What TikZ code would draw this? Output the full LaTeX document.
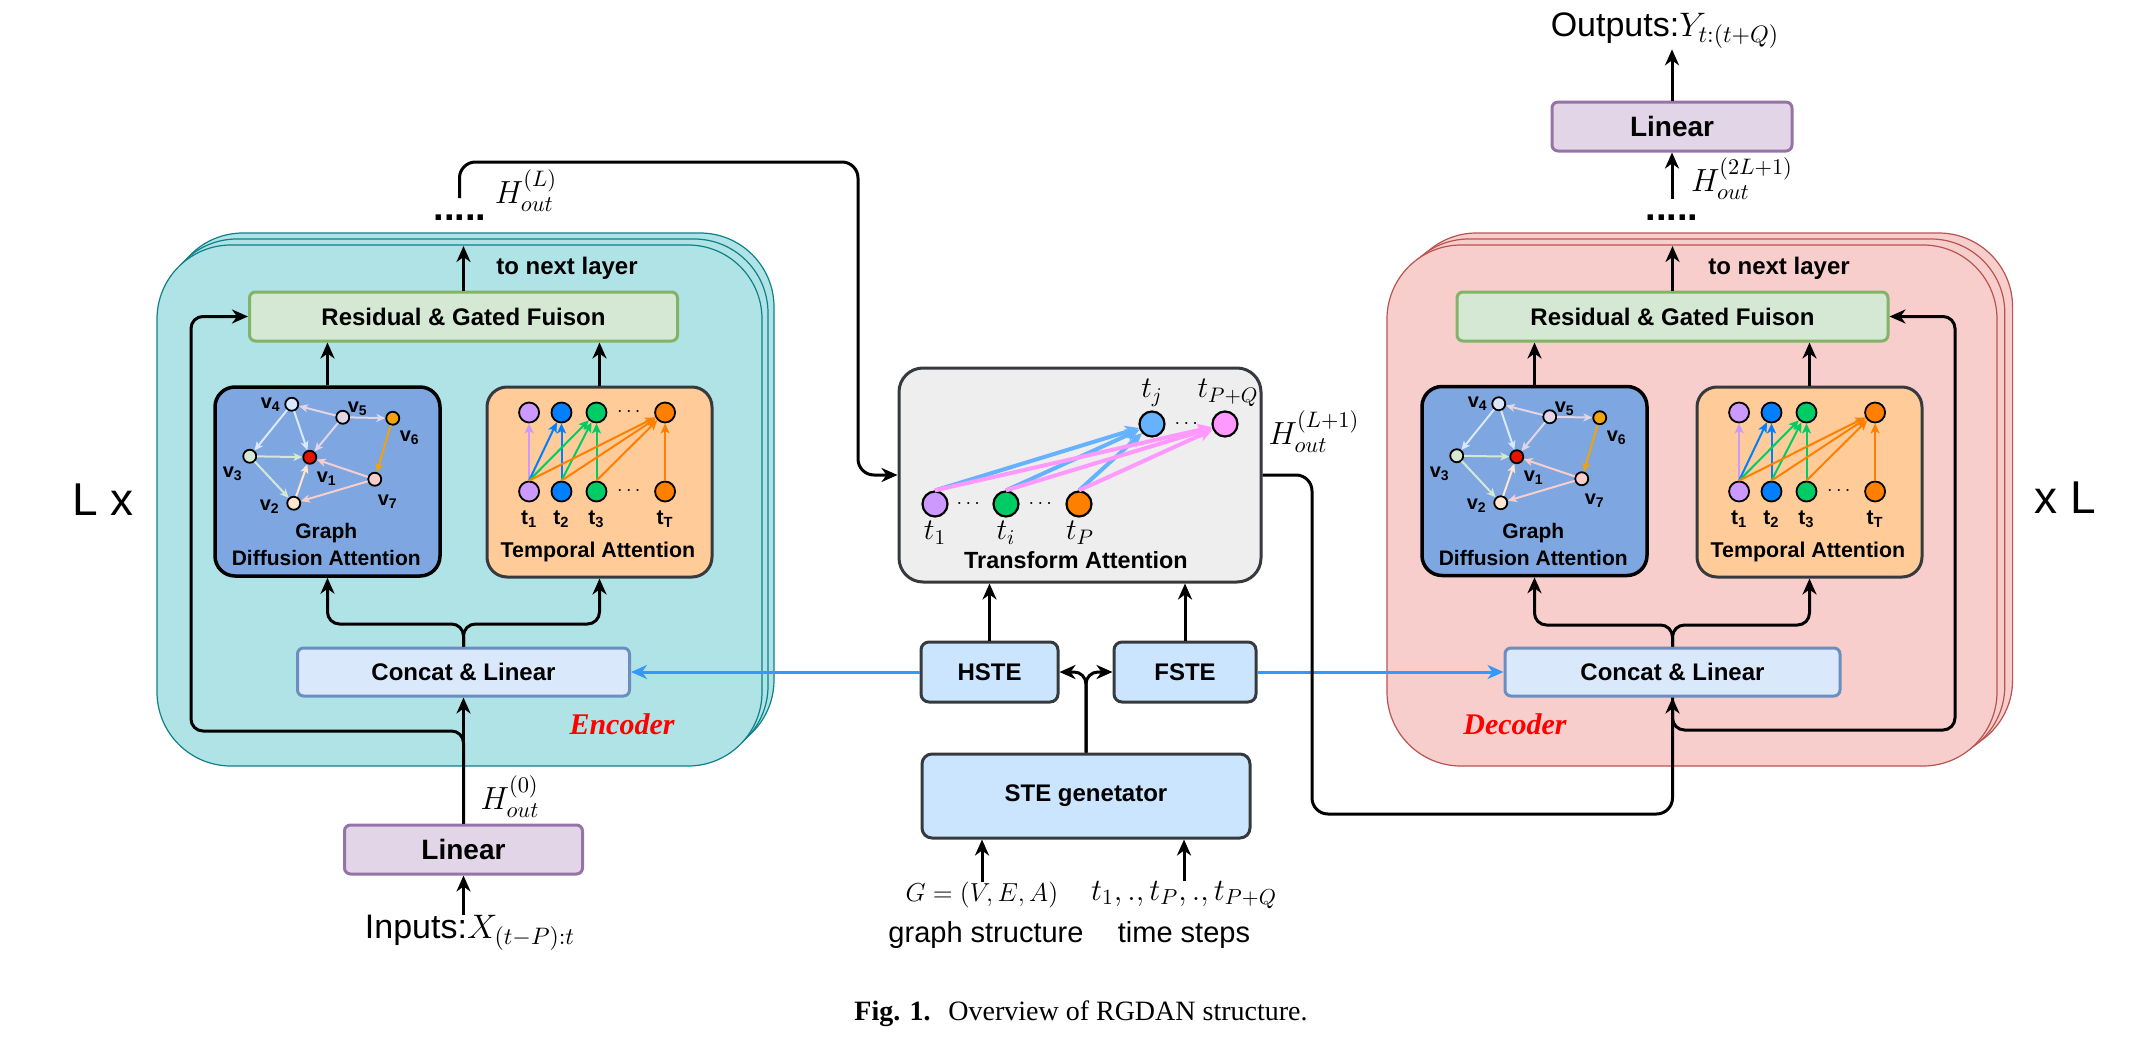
\RequirePackage{fix-cm}
\documentclass[tikz,border=0pt]{standalone}
\usepackage{amsmath}
\usepackage{fontspec}
\setmainfont{Liberation Sans}
\newfontfamily\capfont{Liberation Serif}
\usetikzlibrary{arrows.meta, calc}

\definecolor{encfill}{HTML}{B0E3E6}
\definecolor{encdraw}{HTML}{0E8088}
\definecolor{decfill}{HTML}{F8CECC}
\definecolor{decdraw}{HTML}{B85450}
\definecolor{resfill}{HTML}{D5E8D4}
\definecolor{resdraw}{HTML}{82B366}
\definecolor{catfill}{HTML}{DAE8FC}
\definecolor{catdraw}{HTML}{6C8EBF}
\definecolor{linfill}{HTML}{E1D5E7}
\definecolor{lindraw}{HTML}{9673A6}
\definecolor{gdafill}{HTML}{7EA6E0}
\definecolor{tempfill}{HTML}{FFCC99}
\definecolor{tafill}{HTML}{EEEEEE}
\definecolor{stefill}{HTML}{CCE5FF}
\definecolor{boxdraw}{HTML}{36393D}
\definecolor{embblue}{HTML}{3399FF}
% graph nodes
\definecolor{gv1}{HTML}{E51400}
\definecolor{gv2}{HTML}{FFE6CC}
\definecolor{gv3}{HTML}{D5E8D4}
\definecolor{gv4}{HTML}{DAE8FC}
\definecolor{gv5}{HTML}{E1D5E7}
\definecolor{gv6}{HTML}{F0A30A}
\definecolor{gv7}{HTML}{F8CECC}
% time steps
\definecolor{tpurple}{HTML}{CC99FF}
\definecolor{tblue}{HTML}{007FFF}
\definecolor{tgreen}{HTML}{00CC66}
\definecolor{torange}{HTML}{FF8000}
\definecolor{tsky}{HTML}{66B2FF}
\definecolor{tpink}{HTML}{FF99FF}

\newcommand{\fsz}[2]{\fontsize{#1}{#2}\selectfont}

\begin{document}
\begin{tikzpicture}[x=0.5pt, y=-0.5pt,
    arr/.style={line width=1.5pt, -{Stealth[length=8pt, width=7pt, inset=2.5pt]}},
    embarr/.style={arr, draw=embblue},
    box/.style={draw, line width=1.5pt, rounded corners=3pt, inner sep=0pt, font=\fsz{12}{14}\bfseries},
    resbox/.style={box, fill=resfill, draw=resdraw, minimum width=214pt, minimum height=24.5pt},
    catbox/.style={box, fill=catfill, draw=catdraw, minimum width=166pt, minimum height=24pt},
    linbox/.style={box, fill=linfill, draw=lindraw, minimum width=119pt, minimum height=24.5pt, font=\fsz{14}{16}\bfseries},
    gdabox/.style={box, fill=gdafill, draw=black, line width=1.75pt, rounded corners=10pt, minimum width=112.5pt, minimum height=94.5pt},
    tempbox/.style={box, fill=tempfill, draw=boxdraw, rounded corners=10pt, minimum width=112.5pt, minimum height=95pt},
    stebox/.style={box, fill=stefill, draw=boxdraw, rounded corners=4pt},
    encstack/.style={draw=encdraw, fill=encfill, line width=0.6pt, rounded corners=37pt},
    decstack/.style={draw=decdraw, fill=decfill, line width=0.6pt, rounded corners=37pt},
    gnode/.style={circle, draw, line width=0.9pt, inner sep=0pt, minimum size=6.5pt},
    gedge/.style={line width=1pt, -{Stealth[length=4.5pt, width=4pt, inset=1.2pt]}},
    vlab/.style={font=\fsz{10}{11}\bfseries, inner sep=0pt},
    tnode/.style={circle, draw, line width=0.9pt, inner sep=0pt, minimum size=10pt},
    tedge/.style={line width=1pt, -{Stealth[length=5pt, width=4.5pt, inset=1.2pt]}},
    tlab/.style={font=\fsz{10.5}{12}\bfseries, inner sep=0pt},
    qnode/.style={circle, draw, line width=1.1pt, inner sep=0pt, minimum size=12.5pt},
    qedge/.style={line width=2pt, -{Stealth[length=7pt, width=6.5pt, inset=2pt]}},
    qlab/.style={inner sep=0pt, font=\fsz{15}{17}},
    qdots/.style={inner sep=0pt, font=\fsz{10}{12}},
    note/.style={inner sep=0pt, font=\fsz{12}{14}\bfseries},
    hlab/.style={inner sep=0pt, font=\fsz{16}{18}},
    layerdots/.style={inner sep=0pt, font=\fsz{19}{19}\bfseries},
    stagelab/.style={inner sep=0pt, font=\capfont\fsz{15}{17}\bfseries\itshape, text=red},
  ]
  \useasboundingbox (0,0) rectangle (2133,1044);

  % stacked layers
  \foreach \d in {12,6,0} {
    \draw[encstack] (157+\d,245-\d) rectangle (762+\d,766-\d);
    \draw[decstack] (1387+1.3*\d,245-\d) rectangle (1997+1.3*\d,766-\d);
  }

  % encoder
  \node[linbox] (encLin) at (463.5,849.5) {Linear};
  \node[catbox] (encCat) at (463.5,672) {Concat \& Linear};
  \node[gdabox] (encGraph) at (327.5,481.5) {};
  \node[tempbox] (encTemp) at (599.5,482) {};
  \node[resbox] (encRes) at (463.5,316.5) {Residual \& Gated Fuison};

  % decoder
  \node[linbox, minimum width=120pt] (decLin) at (1672,126.5) {Linear};
  \node[catbox, minimum width=167.5pt] (decCat) at (1672.5,672) {Concat \& Linear};
  \node[gdabox] (decGraph) at (1534.5,481) {};
  \node[tempbox] (decTemp) at (1809.5,482) {};
  \node[resbox, minimum width=215.5pt] (decRes) at (1672.5,316.5) {Residual \& Gated Fuison};

  % embeddings and transform attention
  \node[box, fill=tafill, draw=boxdraw, rounded corners=12pt, minimum width=181pt, minimum height=107pt] (ta) at (1080,475) {};
  \node[stebox, minimum width=68.5pt, minimum height=30pt] (hste) at (989.5,672) {HSTE};
  \node[stebox, minimum width=71pt, minimum height=30pt] (fste) at (1185,672) {FSTE};
  \node[stebox, minimum width=164pt, minimum height=42pt, rounded corners=5pt] (ste) at (1086,796) {STE genetator};

  % texts
  \node[inner sep=0pt, font=\fsz{17}{20}] (inText) at (470,933) {Inputs:$X_{(t-P):t}$};
  \node[inner sep=0pt, font=\fsz{17}{20}] (outText) at (1665,31) {Outputs:$Y_{t:(t+Q)}$};
  \node[inner sep=0pt, font=\fsz{13}{15}] (gIn) at (982,895) {$G=(V,E,A)$};
  \node[inner sep=0pt, font=\fsz{15.5}{18}] (tIn) at (1184,895) {$t_1,.,t_P,.,t_{P+Q}$};
  \node[inner sep=0pt, font=\fsz{14.5}{17}] (gName) at (986,935) {graph structure};
  \node[inner sep=0pt, font=\fsz{14.5}{17}] (tName) at (1184,935) {time steps};
  \node[stagelab] (encName) at (622,724) {Encoder};
  \node[stagelab] (decName) at (1515,724) {Decoder};
  \node[inner sep=0pt, font=\fsz{23}{26}] (encTimes) at (103,500) {L x};
  \node[inner sep=0pt, font=\fsz{23}{26}] (decTimes) at (2065,498) {x L};
  \node[inner sep=0pt, font=\capfont\fsz{14}{16}] (caption) at (1081,1014) {\textbf{Fig. 1.}\hspace{0.3em} Overview of RGDAN structure.};

  % graph diffusion attention
  \foreach \g in {encGraph, decGraph} {
    \begin{scope}[shift={(\g.north west)}]
      \node[gnode, fill=gv1] (\g-1) at (96.5,72) {};
      \node[gnode, fill=gv2] (\g-2) at (80.5,118) {};
      \node[gnode, fill=gv3] (\g-3) at (36.5,71) {};
      \node[gnode, fill=gv4] (\g-4) at (78.5,19) {};
      \node[gnode, fill=gv5] (\g-5) at (129.5,32) {};
      \node[gnode, fill=gv6] (\g-6) at (179.5,33) {};
      \node[gnode, fill=gv7] (\g-7) at (161.5,94) {};
      \foreach \a/\b/\c in {4/3/gv4, 4/1/gv4, 5/4/gv5, 5/1/gv5, 5/6/gv5, 6/7/gv6,
                            7/1/gv7, 7/2/gv7, 3/1/gv3, 3/2/gv3, 2/1/gv2}
        \draw[gedge, draw=\c] (\g-\a) -- (\g-\b);
      \node[vlab] at (113.5,93) {v\textsubscript{1}};
      \node[vlab] at (56.5,121) {v\textsubscript{2}};
      \node[vlab] at (19.5,89) {v\textsubscript{3}};
      \node[vlab] at (57.5,19) {v\textsubscript{4}};
      \node[vlab] at (144.5,24) {v\textsubscript{5}};
      \node[vlab] at (196.5,53) {v\textsubscript{6}};
      \node[vlab] at (174.5,116) {v\textsubscript{7}};
      \node[inner sep=0pt, align=center, font=\fsz{10.5}{13.5}\bfseries] at (113,159.5) {Graph\\Diffusion Attention};
    \end{scope}
  }

  % temporal attention
  \foreach \tb in {encTemp, decTemp} {
    \begin{scope}[shift={(\tb.north west)}]
      \foreach \i/\x/\c in {1/43.6/tpurple, 2/76/tblue, 3/111/tgreen, T/179.6/torange} {
        \node[tnode, fill=\c] (\tb-a\i) at (\x,27) {};
        \node[tnode, fill=\c] (\tb-b\i) at (\x,106) {};
        \node[tlab] at (\x,134) {t\textsubscript{\i}};
      }
      \node[qdots] at (145,106) {$\cdots$};
      \foreach \a/\b/\c in {1/1/tpurple, 1/2/tblue, 2/2/tblue, 1/3/tgreen, 2/3/tgreen, 3/3/tgreen,
                            1/T/torange, 2/T/torange, 3/T/torange, T/T/torange}
        \draw[tedge, draw=\c] (\tb-b\a.north) -- (\tb-a\b);
      \node[inner sep=0pt, font=\fsz{10.7}{13}\bfseries] at (112.5,166) {Temporal Attention};
    \end{scope}
  }
  \node[qdots] at ($(encTemp.north west)+(145,27)$) {$\cdots$};

  % transform attention
  \node[qnode, fill=tpurple] (q1) at (935,504) {};
  \node[qnode, fill=tgreen] (qi) at (1006,504) {};
  \node[qnode, fill=torange] (qP) at (1079,504) {};
  \node[qnode, fill=tsky] (qj) at (1152,424) {};
  \node[qnode, fill=tpink] (qPQ) at (1225,424) {};
  \node[qdots] at (970,504) {$\cdots$};
  \node[qdots] at (1042,504) {$\cdots$};
  \node[qdots] at (1188,424) {$\cdots$};
  \foreach \s in {q1, qi, qP} \draw[qedge, draw=tsky] (\s.north) -- (qj);
  \foreach \s in {q1, qi, qP} \draw[qedge, draw=tpink] (\s.north) -- (qPQ);
  \node[qlab] at (935,533) {$t_1$};
  \node[qlab] at (1006,533) {$t_i$};
  \node[qlab] at (1080,533) {$t_P$};
  \node[qlab] at (1152,393) {$t_j$};
  \node[qlab] at (1228,393) {$t_{P+Q}$};
  \node[inner sep=0pt, font=\fsz{11.7}{14}\bfseries] at (1076,560) {Transform Attention};

  % encoder connectors
  \draw[arr] (inText.north -| encLin) -- (encLin);
  \draw[arr] (encLin) -- (encCat);
  \node[hlab] at (510,797) {$H_{out}^{(0)}$};
  \coordinate (encSkip) at (191,731);
  \draw[arr, rounded corners=6pt] (encLin.north) |- (encSkip) |- (encRes.west);
  \coordinate (encFork) at (463.5,624);
  \draw[arr, rounded corners=6pt] (encCat.north) -- (encFork) -| (encGraph.south);
  \draw[arr, rounded corners=6pt] (encCat.north) -- (encFork) -| (encTemp.south);
  \draw[arr] (encGraph.north) -- (encGraph.north |- encRes.south);
  \draw[arr] (encTemp.north) -- (encTemp.north |- encRes.south);
  \coordinate (encTop) at (463.5,246);
  \draw[arr] (encRes) -- (encTop);
  \node[note] at (567,268) {to next layer};
  \node[layerdots] at (460,218) {.....};
  \coordinate (encOut) at (459.5,198);
  \coordinate (encBend) at (858,162);
  \draw[arr, rounded corners=8pt] (encOut) |- (encBend) |- (ta.west);
  \node[hlab] at (526,191) {$H_{out}^{(L)}$};

  % embedding connectors
  \draw[arr] (hste) -- (hste |- ta.south);
  \draw[arr] (fste) -- (fste |- ta.south);
  \coordinate (steFork) at (1086,672);
  \draw[arr, rounded corners=6pt] (ste.north) -- (steFork) -- (hste.east);
  \draw[arr, rounded corners=6pt] (ste.north) -- (steFork) -- (fste.west);
  \draw[arr] (gIn.north) -- (gIn.north |- ste.south);
  \draw[arr] (tIn.north) -- (tIn.north |- ste.south);
  \draw[embarr] (hste.west) -- (encCat.east);
  \draw[embarr] (fste.east) -- (decCat.west);
  \coordinate (taBend) at (1312,814);
  \draw[arr, rounded corners=8pt] (ta.east) -| (taBend) -| (decCat.south);
  \node[hlab] at (1314,432) {$H_{out}^{(L+1)}$};

  % decoder connectors
  \coordinate (decSkip) at (1955,730);
  \draw[arr, rounded corners=6pt] (decCat.south) |- (decSkip) |- (decRes.east);
  \coordinate (decFork) at (1672.5,625);
  \draw[arr, rounded corners=6pt] (decCat.north) -- (decFork) -| (decGraph.south);
  \draw[arr, rounded corners=6pt] (decCat.north) -- (decFork) -| (decTemp.south);
  \draw[arr] (decGraph.north) -- (decGraph.north |- decRes.south);
  \draw[arr] (decTemp.north) -- (decTemp.north |- decRes.south);
  \coordinate (decTop) at (1672.5,246);
  \draw[arr] (decRes) -- (decTop);
  \node[note] at (1779,268) {to next layer};
  \node[layerdots] at (1672,218) {.....};
  \coordinate (decOut) at (1672,199);
  \draw[arr] (decOut) -- (decLin);
  \node[hlab] at (1742,179) {$H_{out}^{(2L+1)}$};
  \draw[arr] (decLin.north) -- (decLin.north |- outText.south);
\end{tikzpicture}
\end{document}
